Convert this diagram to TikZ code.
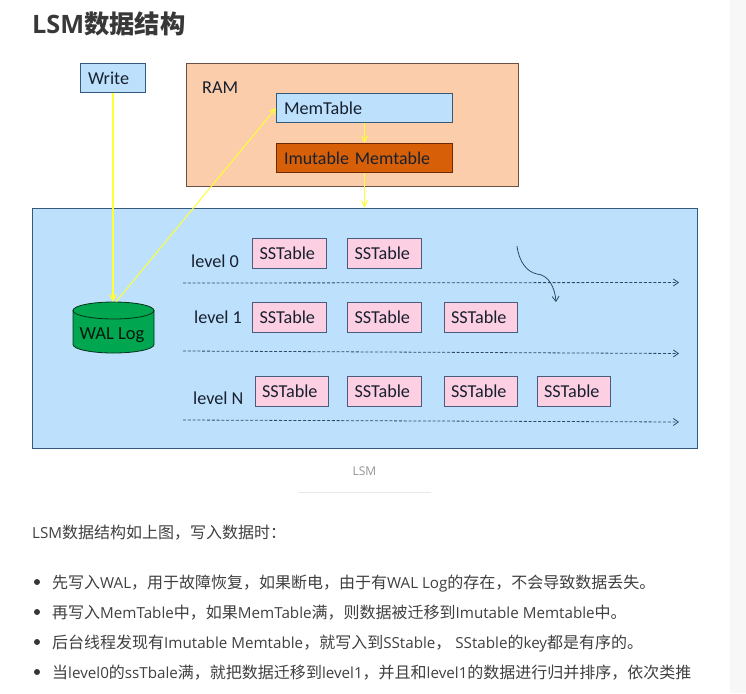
\documentclass[tikz,border=0pt]{standalone}
\usepackage{fontspec}
\usetikzlibrary{arrows.meta}
\setmainfont{Carlito}
\newfontfamily\cjkfont{Noto Sans CJK SC}
\newfontfamily\webfont{Open Sans}
\newcommand{\Cn}[1]{{\cjkfont\fontsize{16}{18}\selectfont #1}}
\definecolor{skyfill}{HTML}{BDE1FD}
\definecolor{skyline}{HTML}{35597A}
\definecolor{pinkfill}{HTML}{FCCFE3}
\definecolor{pinkline}{HTML}{4A5B7C}
\definecolor{ramfill}{HTML}{FBCDAB}
\definecolor{ramline}{HTML}{6B5045}
\definecolor{orangefill}{HTML}{D65F08}
\definecolor{orangeline}{HTML}{6B2A05}
\definecolor{greenfill}{HTML}{00A650}
\definecolor{flowyellow}{HTML}{FFFF33}
\definecolor{inkdark}{HTML}{17202E}
\definecolor{bodyink}{HTML}{404040}
\definecolor{flowdark}{HTML}{2F4A60}
\tikzset{
  labelbox/.style={draw=#1, line width=0.9pt, rectangle, align=left, text=inkdark,
    font=\fontsize{18.2}{20}\selectfont, minimum height=29.5pt, inner ysep=0pt, inner xsep=7.5pt},
  skybox/.style={labelbox=skyline, fill=skyfill},
  sst/.style={labelbox=pinkline, fill=pinkfill, text width=60pt, inner xsep=6.75pt},
  levellabel/.style={font=\fontsize{18.2}{20}\selectfont, text=inkdark, anchor=base west, inner sep=0pt},
  yellowflow/.style={draw=flowyellow, line width=1pt, -{Straight Barb[length=6pt,width=6pt]}},
  dashflow/.style={draw=flowdark, line width=0.8pt, dash pattern=on 3pt off 1.8pt, -{Straight Barb[length=5pt,width=7pt]}},
  bodyline/.style={font=\webfont\fontsize{15.2}{18}\selectfont, text=bodyink, anchor=base west, inner sep=0pt},
  drumline/.style={draw=black!70!greenfill, fill=greenfill, line width=0.8pt},
}
\begin{document}
\begin{tikzpicture}[x=1pt,y=-1pt]
\useasboundingbox (0,0) rectangle (746,693);
\fill[white] (0,0) rectangle (746,693);
\fill[black!3] (730,0) rectangle (746,693);

\node[font=\webfont\bfseries\fontsize{25.3}{30}\selectfont, text=black!78, anchor=base west, inner sep=0pt] (title) at (32,34) {LSM{\cjkfont\bfseries 数据结构}};

% RAM and disk panels
\node[draw=ramline, fill=ramfill, line width=0.9pt, minimum width=332pt, minimum height=123pt, inner sep=0pt] (ram) at (352,124.5) {};
\node[draw=skyline, fill=skyfill, line width=0.9pt, minimum width=665pt, minimum height=240pt, inner sep=0pt] (disk) at (364.5,328) {};

\node[levellabel] (ramlabel) at (202,93) {RAM};
\node[skybox, text width=50pt] (write) at (113,78) {Write};
\node[skybox, text width=161pt] (mem) at (364.5,108) {MemTable};
\node[labelbox=orangeline, fill=orangefill, text width=161pt, font=\fontsize{17.9}{20}\selectfont] (imu) at (364.5,158) {Imutable Memtable};

% WAL drum
\draw[drumline] (73,310.5) -- (73,344.5) .. controls (73,349.2) and (91.1,353) .. (113.5,353)
  .. controls (135.9,353) and (154,349.2) .. (154,344.5) -- (154,310.5) -- cycle;
\draw[drumline] (113.5,310.5) ellipse [x radius=40.5, y radius=8.5];
\node[inner sep=0pt, minimum width=81pt, minimum height=51pt] (wal) at (113,327.5) {};
\node[font=\fontsize{18.5}{20}\selectfont, text=black!85!greenfill, inner sep=0pt] (wallabel) at (112,335) {WAL Log};

% levels
\node[levellabel] (l0) at (191,267) {level 0};
\node[levellabel] (l1) at (194,323) {level 1};
\node[levellabel] (ln) at (193,404) {level N};

\node[sst] (a1) at (289.5,253.5) {SSTable};
\node[sst] (a2) at (384.5,253.5) {SSTable};
\node[sst] (b1) at (289.5,317.5) {SSTable};
\node[sst] (b2) at (384.5,317.5) {SSTable};
\node[sst] (b3) at (481,317.5) {SSTable};
\node[sst] (c1) at (292,391.5) {SSTable};
\node[sst] (c2) at (384.5,391.5) {SSTable};
\node[sst] (c3) at (481,391.5) {SSTable};
\node[sst] (c4) at (574,391.5) {SSTable};

% dashed timelines
\coordinate (d0s) at (183,283);
\coordinate (d0e) at (679,282.5);
\coordinate (d1s) at (183,351);
\coordinate (d1e) at (679,353.5);
\coordinate (dns) at (183,420);
\coordinate (dne) at (679,422);
\draw[dashflow] (d0s) -- (d0e);
\draw[dashflow] (d1s) -- (d1e);
\draw[dashflow] (dns) -- (dne);

% compaction curve
\coordinate (cs) at (517,246);
\coordinate (cm) at (537,274);
\coordinate (ce) at (556,302);
\draw[draw=flowdark, line width=0.8pt, -{Straight Barb[length=5pt,width=7pt]}]
  (cs) .. controls (519,262) and (527,272) .. (cm) .. controls (549,275) and (555,288) .. (ce);

% yellow flows
\draw[yellowflow, line width=1.3pt] (write.south) -- (wal.north);
\draw[yellowflow] ([xshift=3pt]wal.north) -- (mem.west);
\draw[yellowflow] (mem.south) -- (imu.north);
\draw[yellowflow] (imu.south) -- (disk.north);

% caption
\node[font=\webfont\fontsize{12}{14}\selectfont, text=black!42, inner sep=0pt] (cap) at (364.5,471) {LSM};
\coordinate (rs) at (298,492);
\coordinate (re) at (431,492);
\draw[black!9, line width=0.8pt] (rs) -- (re);

% body text
\node[bodyline] (p0) at (32,538) {LSM\Cn{数据结构如上图，写入数据时：}};
\fill[bodyink!85!black] (37,582) circle (3pt);
\fill[bodyink!85!black] (37,612) circle (3pt);
\fill[bodyink!85!black] (37,642) circle (3pt);
\fill[bodyink!85!black] (37,672) circle (3pt);
\node[bodyline] (p1) at (52,588) {\Cn{先写入}WAL\Cn{，用于故障恢复，如果断电，由于有}WAL Log\Cn{的存在，不会导致数据丢失。}};
\node[bodyline] (p2) at (52,618) {\Cn{再写入}MemTable\Cn{中，如果}MemTable\Cn{满，则数据被迁移到}Imutable Memtable\Cn{中。}};
\node[bodyline] (p3) at (52,648) {\Cn{后台线程发现有}Imutable Memtable\Cn{，就写入到}SStable\Cn{，} SStable\Cn{的}key\Cn{都是有序的。}};
\node[bodyline] (p4) at (52,678) {\Cn{当}level0\Cn{的}ssTbale\Cn{满，就把数据迁移到}level1\Cn{，并且和}level1\Cn{的数据进行归并排序，依次类推}};
\end{tikzpicture}
\end{document}
